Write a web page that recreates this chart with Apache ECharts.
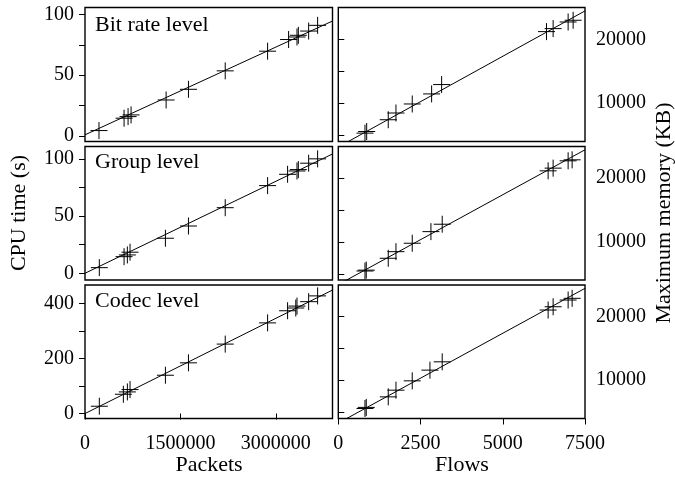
<!DOCTYPE html>
<html><head><meta charset="utf-8">
<script src="https://cdn.jsdelivr.net/npm/echarts@6/dist/echarts.min.js"></script>
<style>html,body{margin:0;padding:0;background:#fff}#c{width:675px;height:477px}</style>
</head><body><div id="c"></div>
<script>
// ---- data ----
const panelLabels = ['Bit rate level', 'Group level', 'Codec level'];
const xTitles = ['Packets', 'Flows'];
const yTitles = ['CPU time (s)', 'Maximum memory (KB)'];

const packetsBitrate = [220000, 614000, 677000, 724000, 1275000, 1626000, 2204000, 2870000, 3200000, 3332000, 3353000, 3515000, 3656000];
const cpuBitrate     = [4.3, 14.5, 15.8, 17.2, 29.5, 38.3, 53.5, 69.7, 79.3, 81.4, 82.8, 86.3, 91];
const packetsGroup   = [225000, 614000, 666000, 708000, 1264000, 1626000, 2204000, 2870000, 3184000, 3332000, 3353000, 3515000, 3656000];
const cpuGroup       = [4.9, 14.5, 16, 18.4, 30.6, 41.3, 57.3, 76.6, 86.5, 89.4, 90.6, 96.2, 100];
const packetsCodec   = [225000, 603000, 666000, 708000, 1264000, 1626000, 2204000, 2870000, 3184000, 3313000, 3332000, 3515000, 3656000];
const cpuCodec       = [26.5, 70, 78.5, 87, 139, 184, 252, 329, 373, 383, 390, 406, 427];

const flowsBitrate = [811, 863, 1519, 1753, 2248, 2837, 3141, 6330, 6531, 6987, 7139];
const memBitrate   = [5261, 5514, 7362, 8420, 9842, 11422, 12891, 21216, 21690, 22733, 23002];
const flowsGroup   = [811, 850, 1519, 1753, 2248, 2816, 3159, 6379, 6531, 6987, 7109];
const memGroup     = [5516, 5650, 7500, 8531, 9844, 11656, 12812, 21140, 21562, 22703, 22859];
const flowsCodec   = [811, 850, 1519, 1753, 2248, 2786, 3159, 6379, 6531, 6987, 7109];
const memCodec     = [5529, 5700, 7362, 8420, 9889, 11580, 12891, 21058, 21579, 22638, 22907];

// fitted lines: [intercept, slope]
const cpuFits = [[0.8, 24.1e-6], [0, 26.8e-6], [0, 115.2e-6]];
const memFits = [[3075, 2.853], [3394, 2.804], [3227, 2.834]];

// tick labels
const packetTicks = [0, 1500000, 3000000];
const flowTicks = [0, 2500, 5000, 7500];
const cpuLabelTicks = [[0, 50, 100], [0, 50, 100], [0, 200, 400]];
const cpuMinorTicks = [[0, 25, 50, 75, 100], [0, 25, 50, 75, 100], [0, 100, 200, 300, 400]];
const memLabelTicks = [10000, 20000];
const memMinorTicks = [5000, 10000, 15000, 20000];

// ---- layout ----
const FONT = '"Liberation Serif", "Times New Roman", serif';
const cpuRanges = [[-4.7, 105.7], [-5.9, 110.8], [-18, 466.5]];
const memRanges = [[3942, 25008], [4110, 24937], [3950, 25008]];
const packetRange = [0, 3890000];
const flowRange = [0, 7500];
const rows = [[7.5, 141.5], [146.5, 280], [285, 418.5]];
const cols = [[85, 332.5], [338.3, 585]];

const leftX = [packetsBitrate, packetsGroup, packetsCodec];
const leftY = [cpuBitrate, cpuGroup, cpuCodec];
const rightX = [flowsBitrate, flowsGroup, flowsCodec];
const rightY = [memBitrate, memGroup, memCodec];

const grid = [], xAxis = [], yAxis = [], series = [], graphic = [];
const CROSS = 'path://M8,0L8,16M0,8L16,8';
let idx = 0;
for (let r = 0; r < 3; r++) {
  for (let c = 0; c < 2; c++) {
    grid.push({
      left: cols[c][0], top: rows[r][0],
      width: cols[c][1] - cols[c][0], height: rows[r][1] - rows[r][0],
      show: true, borderColor: '#000', borderWidth: 1.4, backgroundColor: 'transparent'
    });
    const xr = c === 0 ? packetRange : flowRange;
    const xt = c === 0 ? packetTicks : flowTicks;
    xAxis.push({
      type: 'value', gridIndex: idx, min: xr[0], max: xr[1],
      axisLine: { show: false }, splitLine: { show: false },
      axisTick: { show: r === 2, customValues: xt, length: 6, lineStyle: { color: '#000', width: 1 } },
      axisLabel: { show: r === 2, customValues: xt, margin: 15, color: '#000',
        fontFamily: FONT, fontSize: 20, formatter: v => String(v) }
    });
    const yr = c === 0 ? cpuRanges[r] : memRanges[r];
    const yl = c === 0 ? cpuLabelTicks[r] : memLabelTicks;
    const ym = c === 0 ? cpuMinorTicks[r] : memMinorTicks;
    yAxis.push({
      type: 'value', gridIndex: idx, min: yr[0], max: yr[1],
      position: c === 0 ? 'left' : 'right',
      axisLine: { show: false }, splitLine: { show: false },
      axisTick: { show: true, customValues: ym, length: 6, lineStyle: { color: '#000', width: 1 } },
      axisLabel: { show: true, customValues: yl, margin: 11, color: '#000',
        fontFamily: FONT, fontSize: 20, formatter: v => String(v) }
    });
    const xs = c === 0 ? leftX[r] : rightX[r];
    const ys = c === 0 ? leftY[r] : rightY[r];
    series.push({
      type: 'scatter', xAxisIndex: idx, yAxisIndex: idx,
      data: xs.map((x, i) => [x, ys[i]]),
      symbol: CROSS, symbolSize: 17,
      itemStyle: { color: 'transparent', borderColor: '#000', borderWidth: 1, opacity: 1 },
      silent: true, z: 3
    });
    const fit = c === 0 ? cpuFits[r] : memFits[r];
    series.push({
      type: 'line', xAxisIndex: idx, yAxisIndex: idx, clip: true,
      data: [[xr[0], fit[0] + fit[1] * xr[0]], [xr[1], fit[0] + fit[1] * xr[1]]],
      symbol: 'none', lineStyle: { color: '#000', width: 1 }, silent: true, z: 2
    });
    idx++;
  }
}

const labelY = [27, 164, 303.5];
for (let r = 0; r < 3; r++) {
  graphic.push({ type: 'text', left: 95, top: labelY[r] - 13, silent: true,
    style: { text: panelLabels[r], font: '22px ' + FONT, fill: '#000' } });
}
graphic.push({ type: 'text', x: 19, y: 213, rotation: Math.PI / 2, silent: true,
  style: { text: yTitles[0], font: '22px ' + FONT, fill: '#000', align: 'center', verticalAlign: 'middle' } });
graphic.push({ type: 'text', x: 664, y: 213, rotation: Math.PI / 2, silent: true,
  style: { text: yTitles[1], font: '22px ' + FONT, fill: '#000', align: 'center', verticalAlign: 'middle' } });
graphic.push({ type: 'text', x: 209, y: 465, silent: true,
  style: { text: xTitles[0], font: '22px ' + FONT, fill: '#000', align: 'center', verticalAlign: 'middle' } });
graphic.push({ type: 'text', x: 462, y: 465, silent: true,
  style: { text: xTitles[1], font: '22px ' + FONT, fill: '#000', align: 'center', verticalAlign: 'middle' } });

const chart = echarts.init(document.getElementById('c'), null, { renderer: 'canvas' });
chart.setOption({
  animation: false, backgroundColor: '#fff',
  grid, xAxis, yAxis, series, graphic
});
</script></body></html>
